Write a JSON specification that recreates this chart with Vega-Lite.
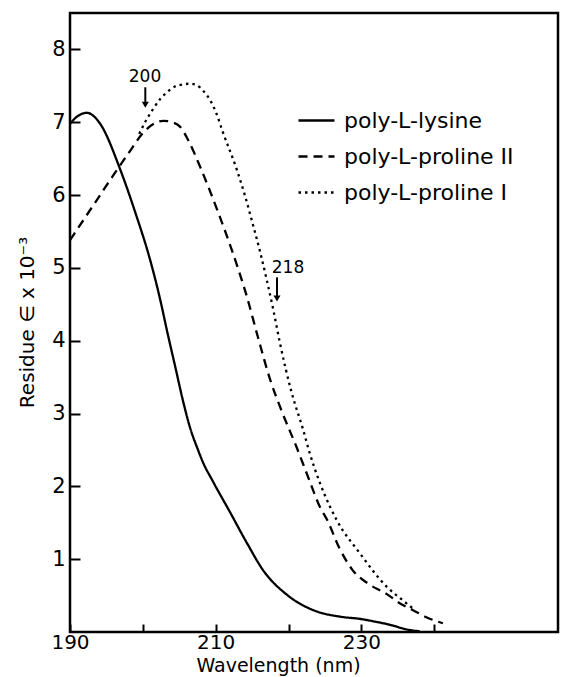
{
  "$schema": "https://vega.github.io/schema/vega-lite/v6.json",
  "width": 488,
  "height": 619,
  "autosize": {"type": "none"},
  "padding": {"left": 70, "top": 13, "right": 6, "bottom": 45},
  "background": "white",
  "config": {
    "font": "DejaVu Sans",
    "view": {"stroke": "black", "strokeWidth": 2.5},
    "axis": {"labelColor": "black", "titleColor": "black", "tickColor": "black", "domain": false, "grid": false, "titleFontWeight": "normal", "tickWidth": 2}
  },
  "resolve": {"axis": {"x": "independent", "y": "independent"}},
  "datasets": {
    "curves": [
      {"nm": 190, "eps": 6.98, "sample": "poly-L-lysine"},
      {"nm": 191, "eps": 7.08, "sample": "poly-L-lysine"},
      {"nm": 192.3, "eps": 7.13, "sample": "poly-L-lysine"},
      {"nm": 193.3, "eps": 7.08, "sample": "poly-L-lysine"},
      {"nm": 194.2, "eps": 6.97, "sample": "poly-L-lysine"},
      {"nm": 196.9, "eps": 6.35, "sample": "poly-L-lysine"},
      {"nm": 199, "eps": 5.75, "sample": "poly-L-lysine"},
      {"nm": 201, "eps": 5.11, "sample": "poly-L-lysine"},
      {"nm": 202.3, "eps": 4.6, "sample": "poly-L-lysine"},
      {"nm": 203.4, "eps": 4.1, "sample": "poly-L-lysine"},
      {"nm": 204.5, "eps": 3.62, "sample": "poly-L-lysine"},
      {"nm": 205.5, "eps": 3.18, "sample": "poly-L-lysine"},
      {"nm": 206.5, "eps": 2.8, "sample": "poly-L-lysine"},
      {"nm": 207.5, "eps": 2.52, "sample": "poly-L-lysine"},
      {"nm": 208.3, "eps": 2.32, "sample": "poly-L-lysine"},
      {"nm": 209.5, "eps": 2.09, "sample": "poly-L-lysine"},
      {"nm": 212, "eps": 1.64, "sample": "poly-L-lysine"},
      {"nm": 214.3, "eps": 1.22, "sample": "poly-L-lysine"},
      {"nm": 216.5, "eps": 0.85, "sample": "poly-L-lysine"},
      {"nm": 219.8, "eps": 0.51, "sample": "poly-L-lysine"},
      {"nm": 223.4, "eps": 0.3, "sample": "poly-L-lysine"},
      {"nm": 227.1, "eps": 0.21, "sample": "poly-L-lysine"},
      {"nm": 229.8, "eps": 0.18, "sample": "poly-L-lysine"},
      {"nm": 232, "eps": 0.14, "sample": "poly-L-lysine"},
      {"nm": 234.3, "eps": 0.09, "sample": "poly-L-lysine"},
      {"nm": 236, "eps": 0.04, "sample": "poly-L-lysine"},
      {"nm": 238, "eps": 0.01, "sample": "poly-L-lysine"},
      {"nm": 190, "eps": 5.38, "sample": "poly-L-proline II"},
      {"nm": 192, "eps": 5.68, "sample": "poly-L-proline II"},
      {"nm": 194, "eps": 5.98, "sample": "poly-L-proline II"},
      {"nm": 196, "eps": 6.28, "sample": "poly-L-proline II"},
      {"nm": 198, "eps": 6.57, "sample": "poly-L-proline II"},
      {"nm": 200, "eps": 6.85, "sample": "poly-L-proline II"},
      {"nm": 201.5, "eps": 6.98, "sample": "poly-L-proline II"},
      {"nm": 202.8, "eps": 7.02, "sample": "poly-L-proline II"},
      {"nm": 204, "eps": 7.0, "sample": "poly-L-proline II"},
      {"nm": 205.1, "eps": 6.94, "sample": "poly-L-proline II"},
      {"nm": 206.2, "eps": 6.76, "sample": "poly-L-proline II"},
      {"nm": 207.9, "eps": 6.38, "sample": "poly-L-proline II"},
      {"nm": 210.2, "eps": 5.8, "sample": "poly-L-proline II"},
      {"nm": 212.2, "eps": 5.25, "sample": "poly-L-proline II"},
      {"nm": 214.3, "eps": 4.6, "sample": "poly-L-proline II"},
      {"nm": 215.8, "eps": 4.05, "sample": "poly-L-proline II"},
      {"nm": 217.5, "eps": 3.46, "sample": "poly-L-proline II"},
      {"nm": 219, "eps": 3.05, "sample": "poly-L-proline II"},
      {"nm": 221.1, "eps": 2.54, "sample": "poly-L-proline II"},
      {"nm": 222.8, "eps": 2.1, "sample": "poly-L-proline II"},
      {"nm": 224.3, "eps": 1.72, "sample": "poly-L-proline II"},
      {"nm": 225.3, "eps": 1.54, "sample": "poly-L-proline II"},
      {"nm": 227, "eps": 1.15, "sample": "poly-L-proline II"},
      {"nm": 228.8, "eps": 0.85, "sample": "poly-L-proline II"},
      {"nm": 231, "eps": 0.66, "sample": "poly-L-proline II"},
      {"nm": 233.5, "eps": 0.52, "sample": "poly-L-proline II"},
      {"nm": 235.5, "eps": 0.38, "sample": "poly-L-proline II"},
      {"nm": 237.1, "eps": 0.3, "sample": "poly-L-proline II"},
      {"nm": 239, "eps": 0.2, "sample": "poly-L-proline II"},
      {"nm": 241.2, "eps": 0.12, "sample": "poly-L-proline II"},
      {"nm": 199.5, "eps": 6.84, "sample": "poly-L-proline I"},
      {"nm": 200.3, "eps": 7.0, "sample": "poly-L-proline I"},
      {"nm": 201.4, "eps": 7.18, "sample": "poly-L-proline I"},
      {"nm": 202.3, "eps": 7.31, "sample": "poly-L-proline I"},
      {"nm": 203.3, "eps": 7.41, "sample": "poly-L-proline I"},
      {"nm": 204.4, "eps": 7.49, "sample": "poly-L-proline I"},
      {"nm": 205.6, "eps": 7.52, "sample": "poly-L-proline I"},
      {"nm": 206.5, "eps": 7.53, "sample": "poly-L-proline I"},
      {"nm": 207.4, "eps": 7.51, "sample": "poly-L-proline I"},
      {"nm": 208.3, "eps": 7.43, "sample": "poly-L-proline I"},
      {"nm": 209.2, "eps": 7.31, "sample": "poly-L-proline I"},
      {"nm": 210.1, "eps": 7.12, "sample": "poly-L-proline I"},
      {"nm": 211, "eps": 6.86, "sample": "poly-L-proline I"},
      {"nm": 212.9, "eps": 6.35, "sample": "poly-L-proline I"},
      {"nm": 214, "eps": 6.0, "sample": "poly-L-proline I"},
      {"nm": 215.1, "eps": 5.6, "sample": "poly-L-proline I"},
      {"nm": 216.1, "eps": 5.22, "sample": "poly-L-proline I"},
      {"nm": 217, "eps": 4.84, "sample": "poly-L-proline I"},
      {"nm": 217.9, "eps": 4.43, "sample": "poly-L-proline I"},
      {"nm": 218.8, "eps": 3.98, "sample": "poly-L-proline I"},
      {"nm": 220.4, "eps": 3.3, "sample": "poly-L-proline I"},
      {"nm": 222, "eps": 2.78, "sample": "poly-L-proline I"},
      {"nm": 222.9, "eps": 2.46, "sample": "poly-L-proline I"},
      {"nm": 224.3, "eps": 2.05, "sample": "poly-L-proline I"},
      {"nm": 225.7, "eps": 1.72, "sample": "poly-L-proline I"},
      {"nm": 226.6, "eps": 1.54, "sample": "poly-L-proline I"},
      {"nm": 229.8, "eps": 1.08, "sample": "poly-L-proline I"},
      {"nm": 233.5, "eps": 0.62, "sample": "poly-L-proline I"},
      {"nm": 235.5, "eps": 0.45, "sample": "poly-L-proline I"},
      {"nm": 237, "eps": 0.33, "sample": "poly-L-proline I"}
    ],
    "marks": [
      {"label": "200", "nm": 200.34, "top": 7.48, "tip": 7.18, "head": 7.24, "textY": 7.62, "textX": 200.3},
      {"label": "218", "nm": 218.42, "top": 4.87, "tip": 4.52, "head": 4.58, "textY": 5.0, "textX": 219.93}
    ]
  },
  "layer": [
    {
      "data": {"name": "curves"},
      "mark": {"type": "line", "color": "black", "strokeWidth": 2.3, "interpolate": "monotone"},
      "encoding": {
        "x": {"field": "nm", "type": "quantitative", "scale": {"domain": [190, 257], "nice": false, "zero": false},
          "axis": {"orient": "bottom", "values": [190, 210, 230], "ticks": false, "labelPadding": 0, "labelFontSize": 20, "labelFlush": false,
            "title": "Wavelength (nm)", "titleFontSize": 19, "titleX": 208, "titleY": 39, "titleBaseline": "alphabetic", "titleAlign": "center"}},
        "y": {"field": "eps", "type": "quantitative", "scale": {"domain": [0, 8.5], "nice": false, "zero": false},
          "axis": {"orient": "left", "values": [1, 2, 3, 4, 5, 6, 7, 8], "format": "d", "ticks": false, "labelPadding": 5, "labelFontSize": 21,
            "title": "Residue ∈ x 10⁻³", "titleFontSize": 20, "titleX": -33, "titleY": 309, "titleAlign": "center", "titleBaseline": "bottom", "titleAngle": -90}},
        "strokeDash": {"field": "sample", "type": "nominal",
          "scale": {"domain": ["poly-L-lysine", "poly-L-proline II", "poly-L-proline I"], "range": [[1, 0], [9, 6], [2.5, 4]]},
          "legend": {"title": null, "orient": "none", "legendX": 227, "legendY": 88, "padding": 0, "symbolType": "stroke", "symbolSize": 1296, "symbolStrokeWidth": 2.5, "symbolStrokeColor": "black", "labelFontSize": 22, "labelColor": "black", "labelOffset": 8, "labelLimit": 300, "rowPadding": 5}}
      }
    },
    {
      "data": {"name": "marks"},
      "mark": {"type": "rule", "color": "black", "strokeWidth": 2},
      "encoding": {
        "x": {"field": "nm", "type": "quantitative", "scale": {"domain": [190, 257], "nice": false, "zero": false},
          "axis": {"orient": "top", "offset": -619, "values": [190, 200, 210, 220, 230, 240], "labels": false, "ticks": true, "tickSize": 8, "title": null}},
        "y": {"field": "top", "type": "quantitative", "scale": {"domain": [0, 8.5], "nice": false, "zero": false},
          "axis": {"orient": "right", "offset": -488, "values": [1, 2, 3, 4, 5, 6, 7, 8], "labels": false, "ticks": true, "tickSize": 10, "title": null}},
        "y2": {"field": "head"}
      }
    },
    {
      "data": {"name": "marks"},
      "mark": {"type": "point", "shape": "triangle-down", "filled": true, "color": "black", "size": 50, "opacity": 1},
      "encoding": {
        "x": {"field": "nm", "type": "quantitative", "scale": {"domain": [190, 257], "nice": false, "zero": false}, "axis": null},
        "y": {"field": "head", "type": "quantitative", "scale": {"domain": [0, 8.5], "nice": false, "zero": false}, "axis": null}
      }
    },
    {
      "data": {"name": "marks"},
      "mark": {"type": "text", "fontSize": 17, "color": "black", "align": "center", "baseline": "middle"},
      "encoding": {
        "x": {"field": "textX", "type": "quantitative", "scale": {"domain": [190, 257], "nice": false, "zero": false}, "axis": null},
        "y": {"field": "textY", "type": "quantitative", "scale": {"domain": [0, 8.5], "nice": false, "zero": false}, "axis": null},
        "text": {"field": "label"}
      }
    }
  ]
}
